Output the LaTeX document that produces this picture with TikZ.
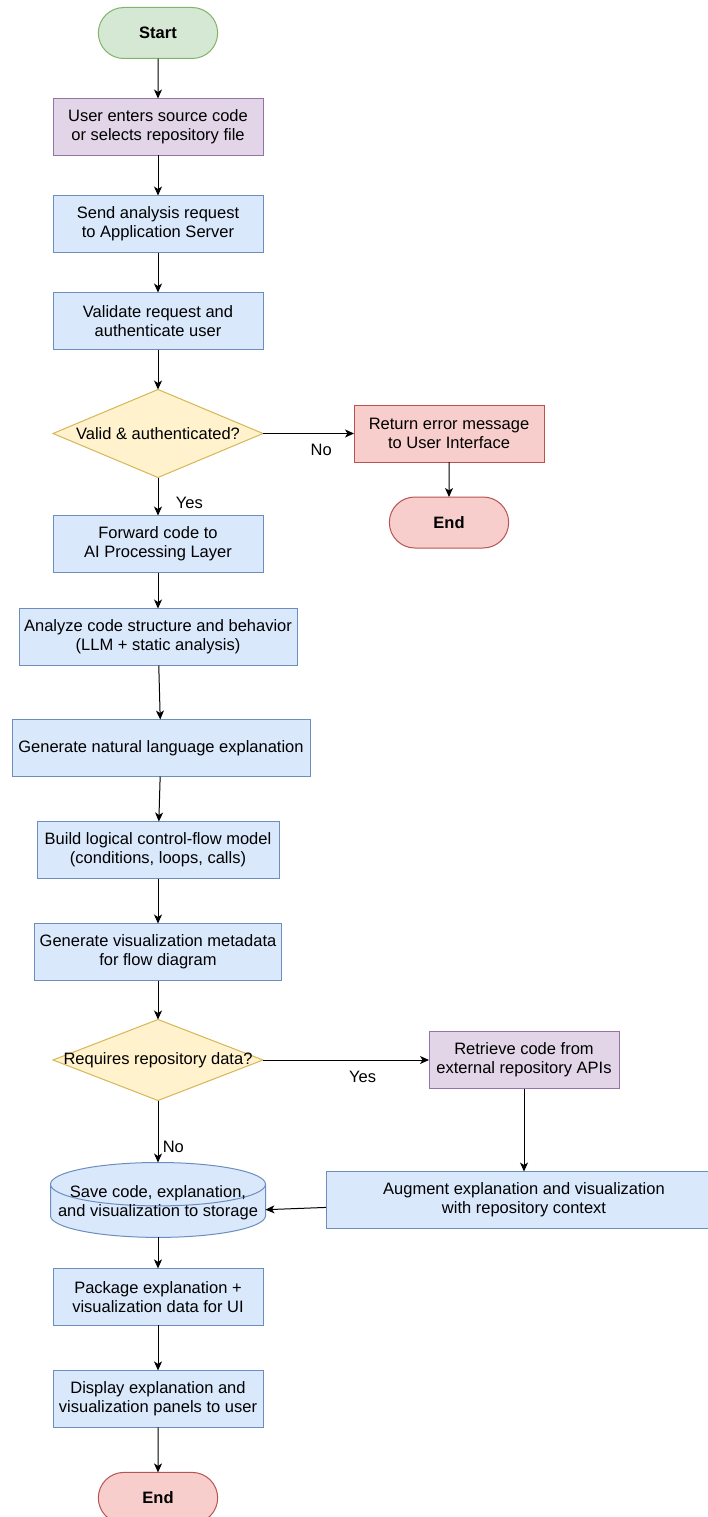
\documentclass[tikz,border=0pt]{standalone}
\usepackage{fontspec}
\setmainfont{Liberation Sans}
\usepackage{tikz}
\usetikzlibrary{positioning, arrows.meta, shapes.geometric, shapes.misc}
\definecolor{startgreen}{HTML}{D5E8D4}
\definecolor{startgreenline}{HTML}{82B366}
\definecolor{inputpurple}{HTML}{E1D5E7}
\definecolor{inputpurpleline}{HTML}{9673A6}
\definecolor{stepblue}{HTML}{DAE8FC}
\definecolor{stepblueline}{HTML}{6C8EBF}
\definecolor{checkyellow}{HTML}{FFF2CC}
\definecolor{checkyellowline}{HTML}{D6B656}
\definecolor{stopred}{HTML}{F8CECC}
\definecolor{stopredline}{HTML}{B85450}

\begin{document}
\begin{tikzpicture}[
    x=1pt, y=-1pt,
    node distance=40pt and 91pt,
    font=\fontsize{16.5}{19}\selectfont,
    startnode/.style={rounded rectangle, draw=startgreenline, line width=1pt, outer sep=0pt, fill=startgreen, minimum width=126pt, minimum height=51pt, font=\fontsize{16.5}{19}\selectfont\bfseries},
    endnode/.style={startnode, draw=stopredline, fill=stopred},
    stepbox/.style={rectangle, draw=stepblueline, line width=1pt, outer sep=0pt, fill=stepblue, minimum width=210pt, minimum height=57pt, align=center},
    inputbox/.style={stepbox, draw=inputpurpleline, fill=inputpurple},
    errorbox/.style={stepbox, draw=stopredline, fill=stopred, minimum width=190pt},
    decision/.style={diamond, draw=checkyellowline, line width=1pt, outer sep=0pt, fill=checkyellow, inner sep=0pt, minimum width=210pt, minimum height=88pt},
    storage/.style={cylinder, shape border rotate=90, aspect=0.21, draw=stepblueline, line width=1pt, outer sep=0pt, fill=stepblue, minimum width=215pt, minimum height=74pt, text height=7pt, text depth=1pt, align=center},
    arrow/.style={-{Stealth[length=9pt, width=8pt, inset=2.5pt]}, line width=1pt}
]
    \useasboundingbox (0,0) rectangle (708,1517);

    \node[startnode] (start) at (158,33) {Start};
    \node[inputbox, below=of start] (input) {User enters source code\\or selects repository file};
    \node[stepbox, below=of input] (send) {Send analysis request\\to Application Server};
    \node[stepbox, below=of send] (validate) {Validate request and\\authenticate user};
    \node[decision, below=of validate] (valid) {\makebox[0pt]{Valid \& authenticated?}};
    \node[errorbox, right=of valid] (error) {Return error message\\to User Interface};
    \node[endnode, below=35pt of error] (enderr) {End};
    \node[stepbox, below=38pt of valid] (forward) {Forward code to\\AI Processing Layer};
    \node[stepbox, below=36pt of forward, minimum width=278pt] (analyze) {Analyze code structure and behavior\\(LLM + static analysis)};
    \node[stepbox, below=54pt of analyze, xshift=3pt, minimum width=298pt] (explain) {Generate natural language explanation};
    \node[stepbox, below=45pt of explain, xshift=-3pt, minimum width=242pt] (model) {Build logical control-flow model\\(conditions, loops, calls)};
    \node[stepbox, below=45pt of model, minimum width=247pt] (meta) {Generate visualization metadata\\for flow diagram};
    \node[decision, below=39pt of meta, minimum height=81pt] (needrepo) {\makebox[0pt]{Requires repository data?}};
    \node[inputbox, right=166pt of needrepo, minimum width=190pt] (retrieve) {Retrieve code from\\external repository APIs};
    \node[stepbox, below=83pt of retrieve, minimum width=396pt] (augment) {Augment explanation and visualization\\with repository context};
    \node[storage, below=62pt of needrepo] (save) {Save code, explanation,\\and visualization to storage};
    \node[stepbox, below=31pt of save] (package) {Package explanation +\\visualization data for UI};
    \node[stepbox, below=45pt of package] (display) {Display explanation and\\visualization panels to user};
    \node[endnode, below=45pt of display] (end) {End};

    \draw[arrow] (start) -- (input);
    \draw[arrow] (input) -- (send);
    \draw[arrow] (send) -- (validate);
    \draw[arrow] (validate) -- (valid);
    \draw[arrow] (valid) -- node[below=7pt, pos=0.64] {No} (error);
    \draw[arrow] (error) -- (enderr);
    \draw[arrow] (valid) -- node[right=14pt, pos=0.67] {Yes} (forward);
    \draw[arrow] (forward) -- (analyze);
    \draw[arrow] (analyze) -- (explain);
    \draw[arrow] (explain) -- (model);
    \draw[arrow] (model) -- (meta);
    \draw[arrow] (meta) -- (needrepo);
    \draw[arrow] (needrepo) -- node[below=7pt, pos=0.6] {Yes} (retrieve);
    \draw[arrow] (retrieve) -- (augment);
    \draw[arrow] (augment) -- (save);
    \draw[arrow] (needrepo) -- node[right=1pt, pos=0.75] {No} (save);
    \draw[arrow] (save) -- (package);
    \draw[arrow] (package) -- (display);
    \draw[arrow] (display) -- (end);
\end{tikzpicture}
\end{document}
